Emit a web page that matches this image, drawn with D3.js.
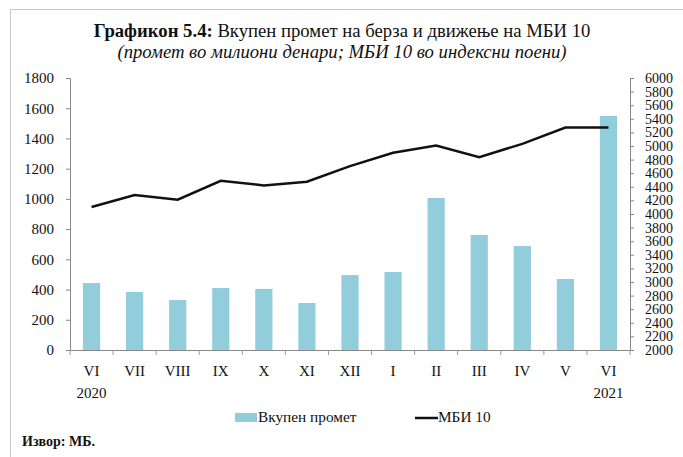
<!DOCTYPE html>
<html><head><meta charset="utf-8">
<script src="https://cdn.jsdelivr.net/npm/d3@7"></script>
<style>body{margin:0;background:#fff}svg{display:block}</style>
</head><body>
<script>
const months = ["VI","VII","VIII","IX","X","XI","XII","I","II","III","IV","V","VI"];
const years = ["2020","","","","","","","","","","","","2021"];
const turnover = [443,384,331,410,404,311,496,516,1006,761,688,470,1549];
const mbi10 = [4102,4278,4210,4489,4420,4474,4704,4900,5007,4836,5031,5271,5271];
const leftTicks = d3.range(0,1801,200);
const rightTicks = d3.range(2000,6001,200);

const W=683,H=457;
const svg=d3.select("body").append("svg").attr("width",W).attr("height",H);
const serif="'Liberation Serif','DejaVu Serif',serif";
// border
svg.append("path").attr("d","M10.5,457 V9.5 H683").attr("fill","none").attr("stroke","#c8c8c8").attr("stroke-width",1);

// title
const t=svg.append("text").attr("x",342).attr("y",37).attr("text-anchor","middle")
  .style("font-family",serif).style("font-size","18.7px").attr("fill","#111");
t.append("tspan").attr("font-weight","bold").text("Графикон 5.4:");
t.append("tspan").text(" Вкупен промет на берза и движење на МБИ 10");
svg.append("text").attr("x",342).attr("y",58).attr("text-anchor","middle")
  .style("font-family",serif).style("font-size","18.7px").style("font-style","italic").attr("fill","#111")
  .text("(промет во милиони денари; МБИ 10 во индексни поени)");

const x0=70,x1=630,yB=350,yT=78;
const xb=d3.scaleBand().domain(d3.range(months.length)).range([x0,x1]);
const yL=d3.scaleLinear().domain([0,1800]).range([yB,yT]);
const yR=d3.scaleLinear().domain([2000,6000]).range([yB,yT]);

// bars
svg.append("g").selectAll("rect").data(turnover).join("rect")
  .attr("x",(d,i)=>xb(i)+xb.bandwidth()/2-8.6).attr("width",17.2)
  .attr("y",d=>yL(d)).attr("height",d=>yB-yL(d)).attr("fill","#92cddc");

// left axis
const gL=svg.append("g").attr("transform",`translate(${x0},0)`)
  .call(d3.axisLeft(yL).tickValues(leftTicks).tickSize(4).tickPadding(12).tickFormat(d3.format("d")));
// right axis
const gR=svg.append("g").attr("transform",`translate(${x1},0)`)
  .call(d3.axisRight(yR).tickValues(rightTicks).tickSize(4).tickPadding(11).tickFormat(d3.format("d")));
// bottom axis
const gB=svg.append("g").attr("transform",`translate(0,${yB})`)
  .call(d3.axisBottom(xb).tickValues([]).tickSizeOuter(0));
gB.selectAll(".tk").data(d3.range(months.length+1)).join("line").attr("class","tk")
  .attr("x1",i=>x0+i*xb.step()).attr("x2",i=>x0+i*xb.step()).attr("y1",0).attr("y2",5)
  .attr("stroke","#999");
[gL,gR,gB].forEach(g=>{g.select(".domain").attr("stroke","#888");g.selectAll(".tick line").attr("stroke","#888");
  g.selectAll("text").style("font-family",serif).attr("fill","#111");});
gL.selectAll("text").style("font-size","15px");
gR.selectAll("text").style("font-size","14px");

// x labels
svg.append("g").selectAll("text").data(months).join("text")
  .attr("x",(d,i)=>xb(i)+xb.bandwidth()/2).attr("y",376).attr("text-anchor","middle")
  .style("font-family",serif).style("font-size","15px").attr("fill","#111").text(d=>d);
svg.append("g").selectAll("text").data(years).join("text")
  .attr("x",(d,i)=>xb(i)+xb.bandwidth()/2).attr("y",398).attr("text-anchor","middle")
  .style("font-family",serif).style("font-size","15px").attr("fill","#111").text(d=>d);

// line
svg.append("path").datum(mbi10)
  .attr("d",d3.line().x((d,i)=>xb(i)+xb.bandwidth()/2).y(d=>yR(d)))
  .attr("fill","none").attr("stroke","#111").attr("stroke-width",2.5);

// legend
svg.append("rect").attr("x",235).attr("y",413).attr("width",22).attr("height",9).attr("fill","#92cddc");
svg.append("text").attr("x",258).attr("y",422).style("font-family",serif).style("font-size","15.3px").attr("fill","#111").text("Вкупен промет");
svg.append("line").attr("x1",415).attr("x2",438).attr("y1",418).attr("y2",418).attr("stroke","#111").attr("stroke-width",2.5);
svg.append("text").attr("x",438).attr("y",422).style("font-family",serif).style("font-size","15.3px").attr("fill","#111").text("МБИ 10");

svg.append("text").attr("x",22).attr("y",446).style("font-family",serif).style("font-size","14px").attr("font-weight","bold").attr("fill","#111").text("Извор: МБ.");
</script>
</body></html>
